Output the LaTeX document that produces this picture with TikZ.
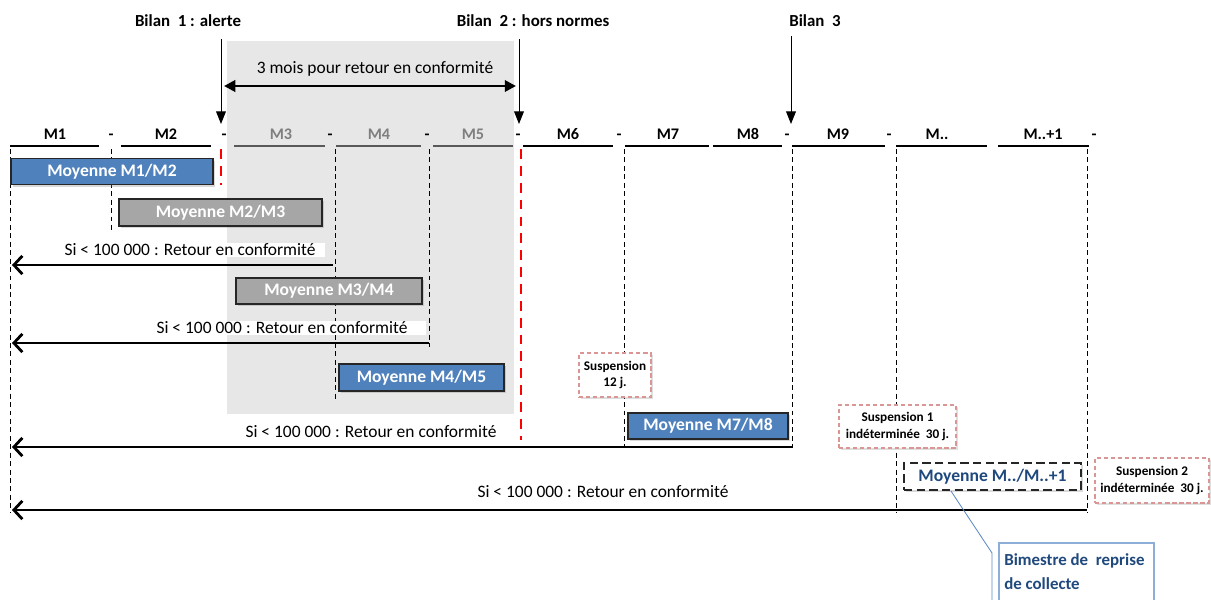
\documentclass[tikz,border=0pt]{standalone}
\usepackage{fontspec}
\setmainfont{Carlito}
\usepackage{tikz}
\usetikzlibrary{arrows.meta,positioning,shadows}
\definecolor{moyblue}{HTML}{4F81BD}
\definecolor{moygray}{HTML}{A6A6A6}
\definecolor{shadegray}{HTML}{E7E7E7}
\definecolor{greytxt}{HTML}{7F7F7F}
\definecolor{greyline}{HTML}{595959}
\definecolor{susppink}{HTML}{D99694}
\definecolor{darkblue}{HTML}{1F497D}
\definecolor{calloutblue}{HTML}{5B8BC6}

\begin{document}
\begin{tikzpicture}[
    x=0.025cm, y=-0.025cm,
    bilan/.style={font=\fontsize{12}{14}\selectfont\bfseries, inner sep=0pt},
    month/.style={font=\fontsize{11.5}{13}\selectfont\bfseries, inner sep=0pt, anchor=base},
    downarrow/.style={line width=0.7pt, -{Triangle[length=9pt,width=7pt]}},
    guide/.style={line width=0.6pt, dash pattern=on 3.5pt off 2.5pt},
    redcut/.style={red, line width=1.8pt, dash pattern=on 7pt off 5pt},
    retarrow/.style={line width=2pt, -{Straight Barb[length=6pt,width=13pt,line width=2pt]}},
    rettext/.style={font=\fontsize{12.4}{14}\selectfont, inner sep=1pt},
    moybox/.style={draw=black!85, line width=0.9pt, minimum height=0.65cm, text=white,
        font=\fontsize{12.5}{14}\selectfont\bfseries,
        drop shadow={shadow xshift=1.2pt, shadow yshift=-1.5pt, opacity=0.3}},
    suspbox/.style={draw=susppink, fill=white, line width=0.8pt, dash pattern=on 3pt off 2pt,
        align=center, font=\fontsize{9.4}{12}\selectfont\bfseries, inner sep=1pt,
        drop shadow={shadow xshift=1.2pt, shadow yshift=-1.5pt, opacity=0.25}}
]
    \useasboundingbox (0,0) rectangle (1211,599);
    \clip (0,0) rectangle (1211,599);

    % Zone de retour en conformite
    \fill[shadegray] (227,41) rectangle (514,414);

    % Bilans
    \node[bilan] (bilan1) at (188,21) {Bilan~~1 : alerte};
    \node[bilan] (bilan2) at (533,21) {Bilan~~2 : hors normes};
    \node[bilan] (bilan3) at (815,21) {Bilan~~3};
    \coordinate (b1top) at (221,39);  \coordinate (b1tip) at (221,124);
    \coordinate (b2top) at (519,39);  \coordinate (b2tip) at (519,124);
    \coordinate (b3top) at (791,36);  \coordinate (b3tip) at (791,124);
    \draw[downarrow] (b1top) -- (b1tip);
    \draw[downarrow] (b2top) -- (b2tip);
    \draw[downarrow] (b3top) -- (b3tip);

    % 3 mois
    \node[rettext] (delai) at (375,69) {3 mois pour retour en conformité};
    \coordinate (dleft) at (224,86);
    \coordinate (dright) at (516,86);
    \draw[line width=2pt, {Triangle[length=8pt,width=8pt]}-{Triangle[length=8pt,width=8pt]}] (dleft) -- (dright);

    % Mois
    \foreach \i/\lab/\cx/\xa/\xb/\col/\lcol in {1/M1/55/10/99/black/black, 2/M2/166/121/211/black/black,
        3/M3/281/234/325/greytxt/greyline, 4/M4/379/336/421/greytxt/greyline, 5/M5/473/433/513/greytxt/greyline,
        6/M6/568/523/613/black/black, 7/M7/668/625/709/black/black, 8/M8/748/713/782/black/black,
        9/M9/838/792/885/black/black, 10/M../937/896/987/black/black, 11/M..+1/1043/998/1089/black/black} {
        \node[month, text=\col] (mois\i) at (\cx,139) {\lab};
        \draw[line width=1.5pt, \lcol] (\xa,146) -- (\xb,146);
    }
    \foreach \j/\sx in {1/111, 2/224, 3/330, 4/427, 5/518, 6/619, 7/787, 8/889, 9/1094}
        \node[month] (sep\j) at (\sx,139) {-};

    % Reperes
    \draw[guide] (10,149) -- (10,512);
    \draw[guide] (111,149) -- (111,230);
    \draw[guide] (335,149) -- (335,400);
    \draw[guide] (429,149) -- (429,347);
    \draw[guide] (624,149) -- (624,448);
    \draw[guide] (792,149) -- (792,448);
    \draw[guide] (896,149) -- (896,512);
    \draw[guide] (1087,149) -- (1087,512);
    \draw[redcut] (221,149) -- (221,185);
    \draw[redcut] (521,149) -- (521,440);

    % Moyennes
    \node[moybox, fill=moyblue, minimum width=5.05cm] (moy12) at (112,171.5) {Moyenne M1/M2};
    \node[moybox, fill=moygray, minimum width=5.075cm, minimum height=0.675cm] (moy23) at (220.5,212.5) {Moyenne M2/M3};
    \node[moybox, fill=moygray, minimum width=4.65cm] (moy34) at (329,291) {Moyenne M3/M4};
    \node[moybox, fill=moyblue, minimum width=4.125cm, minimum height=0.675cm] (moy45) at (421.5,377.5) {Moyenne M4/M5};
    \node[moybox, fill=moyblue, minimum width=4cm] (moy78) at (708,426) {Moyenne M7/M8};
    \node[moybox, fill=white, text=darkblue, line width=1.3pt, dash pattern=on 6pt off 3pt,
        minimum width=4.425cm, minimum height=0.675cm] (moyxx) at (992.5,476.5) {Moyenne M../M..+1};

    % Suspensions
    \node[suspbox, minimum width=1.8cm, minimum height=1.1cm] (susp0) at (615,375) {Suspension\\12 j.};
    \node[suspbox, minimum width=2.925cm, minimum height=1.075cm] (susp1) at (897.5,426.5) {Suspension 1\\indéterminée~~30 j.};
    \node[suspbox, minimum width=2.85cm, minimum height=1.125cm] (susp2) at (1152,480.5) {Suspension 2\\indéterminée~~30 j.};

    % Retours en conformite
    \node[rettext, fill=white, inner xsep=7pt] (ret1) at (190,250) {Si < 100 000 : Retour en conformité};
    \node[rettext, fill=white, inner xsep=13pt] (ret2) at (282,328) {Si < 100 000 : Retour en conformité};
    \node[rettext] (ret3) at (371,432) {Si < 100 000 : Retour en conformité};
    \node[rettext] (ret4) at (603,492) {Si < 100 000 : Retour en conformité};
    \coordinate (r1a) at (333,265);  \coordinate (r1b) at (12,265);
    \coordinate (r2a) at (429,343);  \coordinate (r2b) at (12,343);
    \coordinate (r3a) at (792,447);  \coordinate (r3b) at (12,447);
    \coordinate (r4a) at (1087,510); \coordinate (r4b) at (12,510);
    \draw[retarrow] (r1a) -- (r1b);
    \draw[retarrow] (r2a) -- (r2b);
    \draw[retarrow] (r3a) -- (r3b);
    \draw[retarrow] (r4a) -- (r4b);

    % Bimestre de reprise
    \draw[calloutblue!70, line width=0.8pt] (999,620) -- (999,543) -- (1154,543) -- (1154,620);
    \node[anchor=north west, align=left, text=darkblue, inner sep=0pt,
        font=\fontsize{12}{17}\selectfont\bfseries] (bimestre) at (1004,553) {Bimestre de~~reprise\\de collecte};
    \coordinate (bar) at (992,553);
    \coordinate (barend) at (992,620);
    \draw[calloutblue, line width=0.6pt] ([xshift=-1.04cm]moyxx.south) -- (bar) -- (barend);
\end{tikzpicture}
\end{document}
